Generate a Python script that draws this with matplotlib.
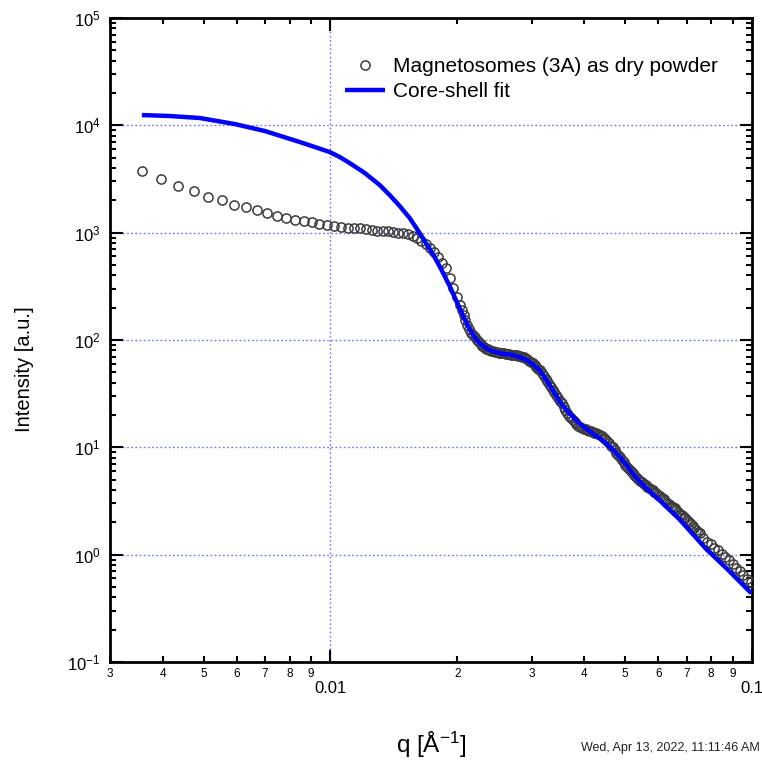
import matplotlib
matplotlib.use("Agg")
import matplotlib.pyplot as plt

plt.rcParams['font.family'] = ['Liberation Sans', 'DejaVu Sans']
plt.rcParams['mathtext.fontset'] = 'custom'
plt.rcParams['mathtext.rm'] = 'Liberation Sans'
plt.rcParams['mathtext.it'] = 'Liberation Sans:italic'
plt.rcParams['mathtext.bf'] = 'Liberation Sans:bold'

# Measured scattering curve: q [1/Angstrom] and intensity [a.u.]
q_data = [0.00357, 0.00396, 0.00435, 0.00474, 0.00513, 0.00552, 0.00591, 0.00630,
          0.00669, 0.00708, 0.00747, 0.00786, 0.00825, 0.00864, 0.00903, 0.00942,
          0.00981, 0.01020, 0.01059, 0.01098, 0.01137, 0.01176, 0.01215, 0.01254,
          0.01293, 0.01332, 0.01371, 0.01410, 0.01449, 0.01488, 0.01527, 0.01566,
          0.01605, 0.01644, 0.01683, 0.01722, 0.01761, 0.01800, 0.01839, 0.01878,
          0.01917, 0.01956, 0.01995,
          0.0203, 0.0207, 0.0211, 0.0216, 0.0220, 0.0225, 0.0229, 0.0234, 0.0238, 0.0243,
          0.0248, 0.0253, 0.0258, 0.0263, 0.0268, 0.0274, 0.0279, 0.0285, 0.0290, 0.0296,
          0.0302, 0.0308, 0.0314, 0.0321, 0.0327, 0.0334, 0.0340, 0.0347, 0.0354, 0.0361,
          0.0368, 0.0376, 0.0383, 0.0391, 0.0399, 0.0407, 0.0415, 0.0423, 0.0432, 0.0440,
          0.0449, 0.0458, 0.0467, 0.0477, 0.0486, 0.0496, 0.0506, 0.0516, 0.0526, 0.0537,
          0.0548, 0.0559, 0.0570, 0.0581, 0.0593, 0.0605, 0.0617, 0.0629, 0.0642, 0.0655,
          0.0668, 0.0681, 0.0695, 0.0709, 0.0723, 0.0737, 0.0752, 0.0767, 0.0782, 0.0798,
          0.0814, 0.0830, 0.0847, 0.0864, 0.0881, 0.0899, 0.0917, 0.0935, 0.0954, 0.0973,
          0.0992]
I_data = [3750, 3160, 2720, 2440, 2150, 2010, 1810, 1730, 1620, 1520, 1430, 1370,
          1310, 1280, 1255, 1200, 1180, 1150, 1130, 1115, 1105, 1105, 1080, 1070,
          1045, 1035, 1035, 1013, 1002, 992, 970, 929, 890, 835, 783, 719,
          659, 592, 521, 468, 378, 305, 251,
          211, 171, 138, 116, 106, 95.6, 87.7, 83.2, 80.5, 78.8,
          77.1, 75.5, 75.0, 73.9, 73.1, 72.3, 71.5, 70.0, 67.8, 64.3,
          60.9, 55.9, 52.4, 46.1, 41.4, 36.4, 32.7, 28.7, 25.8, 22.2,
          19.5, 17.9, 16.5, 15.4, 14.9, 14.5, 14.2, 13.7, 13.3, 12.7,
          11.9, 10.9, 10.0, 8.83, 8.10, 7.28, 6.54, 6.00, 5.51, 5.05,
          4.74, 4.44, 4.17, 3.99, 3.74, 3.51, 3.29, 3.02, 2.86, 2.71,
          2.49, 2.33, 2.19, 2.01, 1.86, 1.69, 1.59, 1.44, 1.31, 1.25,
          1.16, 1.10, 1.02, 0.948, 0.889, 0.816, 0.748, 0.702, 0.644, 0.591,
          0.554]

# Additional measured points in the mid-q range (interleaved q grid)
q_data_mid = [0.0205, 0.0209, 0.02135, 0.0218, 0.02225, 0.0227, 0.02315, 0.0236,
              0.02405, 0.02455, 0.02505, 0.02555, 0.02605, 0.02655, 0.0271, 0.02765,
              0.0282, 0.02875, 0.0293, 0.0299, 0.0305, 0.0311, 0.03175, 0.0324,
              0.03305, 0.0337, 0.03435, 0.03505, 0.03575, 0.03645, 0.0372, 0.03795,
              0.0387, 0.0395, 0.0403, 0.0411, 0.0419, 0.04275, 0.0436, 0.04445,
              0.04535, 0.04625, 0.0472, 0.04815, 0.0491, 0.0501, 0.0511, 0.0521,
              0.05315, 0.05425, 0.05535, 0.05645, 0.05755, 0.0587, 0.0599, 0.0611,
              0.0623, 0.06355, 0.06485, 0.06615, 0.06745, 0.0688, 0.0702, 0.0716,
              0.0730, 0.07445]
I_data_mid = [190, 153, 126, 111, 100.5, 91.5, 85.3, 81.8, 79.6, 77.9,
              76.3, 75.2, 74.4, 73.5, 72.7, 71.9, 70.8, 69.0, 66.1, 62.6,
              58.4, 54.1, 49.2, 43.7, 38.8, 34.5, 30.6, 27.2, 23.9, 20.8,
              18.7, 17.2, 15.9, 15.1, 14.7, 14.3, 13.9, 13.5, 13.0, 12.3,
              11.4, 10.4, 9.40, 8.46, 7.68, 6.90, 6.26, 5.75, 5.27, 4.89,
              4.59, 4.30, 4.08, 3.86, 3.62, 3.40, 3.15, 2.94, 2.78, 2.60,
              2.41, 2.26, 2.10, 1.93, 1.77, 1.64]

# Core-shell model curve
q_fit = [0.00357, 0.00416, 0.00490, 0.00593, 0.00699, 0.00846, 0.009182, 0.00996,
         0.010522, 0.01111, 0.012066, 0.01309, 0.013821, 0.01460, 0.015417, 0.01628,
         0.01767, 0.018355, 0.01918, 0.019705, 0.02025, 0.020815, 0.02139, 0.021979,
         0.02258, 0.023208, 0.02385, 0.02518, 0.02704, 0.028108, 0.02920, 0.030176,
         0.03134, 0.032205, 0.03310, 0.034013, 0.03495, 0.036125, 0.03753, 0.038556,
         0.03963, 0.04116, 0.042307, 0.04347, 0.045164, 0.04667, 0.048488, 0.05038,
         0.052048, 0.05408, 0.05711, 0.06031, 0.06725, 0.07793, 0.08694, 0.0996]
I_fit = [12470, 12210, 11700, 10280, 8850, 6990, 6280, 5640,
         5065, 4450, 3594, 2777, 2241, 1770, 1368, 992,
         592, 448, 318, 251, 198, 156.6, 126, 106.4,
         93.6, 85.9, 80.5, 75.5, 72.3, 69.3, 65.0, 59.6,
         52.4, 45.1, 38.0, 32.0, 26.9, 22.7, 19.5, 17.4,
         15.8, 14.2, 13.1, 12.2, 10.8, 9.62, 8.19, 6.83,
         5.75, 4.84, 3.91, 3.22, 2.14, 1.125, 0.748, 0.438]

x_major = [0.01, 0.1]
x_major_labels = ['0.01', '0.1']
x_minor = [0.003, 0.004, 0.005, 0.006, 0.007, 0.008, 0.009,
           0.02, 0.03, 0.04, 0.05, 0.06, 0.07, 0.08, 0.09]
x_minor_labels = ['3', '4', '5', '6', '7', '8', '9',
                  '2', '3', '4', '5', '6', '7', '8', '9']
y_major = [1e-1, 1e0, 1e1, 1e2, 1e3, 1e4, 1e5]
y_major_labels = ['$10^{-1}$', '$10^{0}$', '$10^{1}$', '$10^{2}$',
                  '$10^{3}$', '$10^{4}$', '$10^{5}$']
y_minor = [m * d for d in [1e-1, 1e0, 1e1, 1e2, 1e3, 1e4] for m in range(2, 10)]

fig = plt.figure(figsize=(7.62, 7.65), dpi=100)
ax = fig.add_axes([110 / 762, 1 - 662 / 765, 642 / 762, 644 / 765])

ax.set_xscale('log')
ax.set_yscale('log')

marker_style = dict(linestyle='none', marker='o', markersize=6.6,
                    markerfacecolor='none', markeredgecolor='#3c3c3c',
                    markeredgewidth=1.1, zorder=3)
pts, = ax.plot(q_data, I_data, **marker_style)
ax.plot(q_data_mid, I_data_mid, **marker_style)
fit, = ax.plot(q_fit, I_fit, color='#0000ff', linewidth=3.2, zorder=4,
               solid_capstyle='butt', solid_joinstyle='round')

ax.set_xlim(0.003, 0.1)
ax.set_ylim(0.1, 1e5)

ax.set_xticks(x_major)
ax.set_xticklabels(x_major_labels)
ax.set_xticks(x_minor, minor=True)
ax.set_xticklabels(x_minor_labels, minor=True)
ax.set_yticks(y_major)
ax.set_yticklabels(y_major_labels)
ax.set_yticks(y_minor, minor=True)
ax.set_yticklabels([], minor=True)

ax.grid(True, which='major', color='#6f6fff', linestyle=(0, (1.2, 1.8)),
        linewidth=1.0, zorder=1)

for s in ax.spines.values():
    s.set_linewidth(2.0)
    s.set_color('black')

ax.tick_params(which='both', direction='in', top=True, right=True,
               color='black', width=1.5)
ax.tick_params(which='major', length=9)
ax.tick_params(which='minor', length=4.5)
ax.tick_params(axis='x', which='major', pad=14, labelsize=12)
ax.tick_params(axis='x', which='minor', pad=4, labelsize=8.5)
ax.tick_params(axis='y', which='major', pad=7, labelsize=12)

ax.set_xlabel('q [Å$^{-1}$]', fontsize=17.5)
ax.xaxis.set_label_coords(0.5, -0.105)
ax.xaxis.label.set_va('top')
ax.set_ylabel('Intensity [a.u.]', fontsize=14.5)
ax.yaxis.set_label_coords(-0.118, 0.455)

ax.legend([pts, fit], ['Magnetosomes (3A) as dry powder', 'Core-shell fit'],
          loc='upper left', bbox_to_anchor=(0.366, 0.939), frameon=False,
          fontsize=15, handlelength=1.92, handletextpad=0.38,
          labelspacing=0.29, borderpad=0, borderaxespad=0, numpoints=1)

fig.text(0.997, 0.022, 'Wed, Apr 13, 2022, 11:11:46 AM', ha='right',
         va='center', fontsize=9, color='#222222')

fig.savefig('out.png', dpi=100)
